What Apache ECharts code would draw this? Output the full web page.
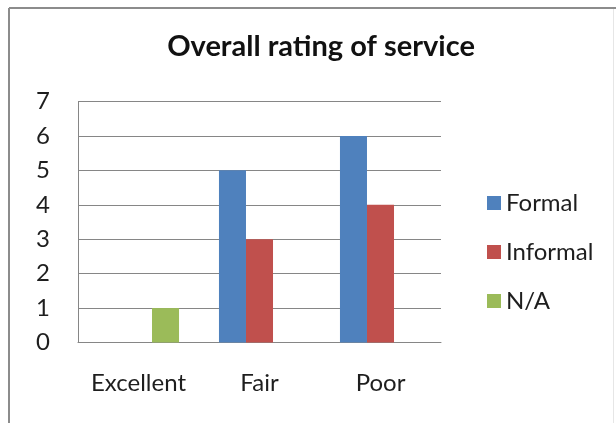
<!DOCTYPE html>
<html>
<head>
<meta charset="utf-8">
<script src="https://cdn.jsdelivr.net/npm/echarts@6/dist/echarts.min.js"></script>
<style>
  html, body { margin: 0; padding: 0; background: #ffffff; }
  #chart { width: 616px; height: 423px; }
</style>
</head>
<body>
<div id="chart"></div>
<script>
// Survey answers: overall rating of service
const categories = ['Excellent', 'Fair', 'Poor'];
const formal = [0, 5, 6];
const informal = [0, 3, 4];
const notApplicable = [1, 0, 0];
const yTicks = [0, 1, 2, 3, 4, 5, 6, 7];

const FONT = 'Lato, "Noto Sans", sans-serif';
const TEXT = '#1e1e1e';
const GRID = '#868686';

const chart = echarts.init(document.getElementById('chart'), null, { renderer: 'canvas' });

function barSeries(name, values, color) {
  return {
    name: name,
    type: 'bar',
    data: values,
    barGap: '0%',
    barCategoryGap: '33%',
    itemStyle: { color: color },
    emphasis: { disabled: true }
  };
}

chart.setOption({
  animation: false,
  backgroundColor: '#ffffff',
  title: {
    text: 'Overall rating of service',
    left: 316,
    textAlign: 'center',
    top: 27,
    textStyle: { fontFamily: FONT, fontSize: 29, fontWeight: 'bold', color: '#111' }
  },
  legend: {
    orient: 'vertical',
    left: 482,
    top: 186,
    itemWidth: 14,
    itemHeight: 14,
    itemGap: 25,
    icon: 'rect',
    textStyle: { fontFamily: FONT, fontSize: 24, color: TEXT },
    data: ['Formal', 'Informal', 'N/A']
  },
  grid: { left: 78, right: 175, top: 101.5, bottom: 80.5, containLabel: false },
  xAxis: {
    type: 'category',
    data: categories,
    axisLine: { show: true, lineStyle: { color: GRID, width: 1 } },
    axisTick: { show: false },
    axisLabel: { interval: 0, hideOverlap: false, fontFamily: FONT, fontSize: 24, color: TEXT, margin: 29 }
  },
  yAxis: {
    type: 'value',
    min: yTicks[0],
    max: yTicks[yTicks.length - 1],
    interval: 1,
    axisLine: { show: true, lineStyle: { color: GRID, width: 1 } },
    axisTick: { show: false },
    splitLine: { show: true, lineStyle: { color: GRID, width: 1 } },
    axisLabel: { fontFamily: FONT, fontSize: 24, color: TEXT, margin: 28 }
  },
  series: [
    barSeries('Formal', formal, '#4F81BD'),
    barSeries('Informal', informal, '#C0504D'),
    barSeries('N/A', notApplicable, '#9BBB59')
  ],
  graphic: [
    { type: 'line', shape: { x1: 9, y1: 8, x2: 616, y2: 8 }, style: { stroke: '#8c8c8c', lineWidth: 2 }, silent: true },
    { type: 'line', shape: { x1: 9, y1: 8, x2: 9, y2: 423 }, style: { stroke: '#8c8c8c', lineWidth: 2 }, silent: true },
    { type: 'line', shape: { x1: 613.5, y1: 9, x2: 613.5, y2: 423 }, style: { stroke: '#e6e6e6', lineWidth: 1 }, silent: true }
  ]
});
</script>
</body>
</html>
